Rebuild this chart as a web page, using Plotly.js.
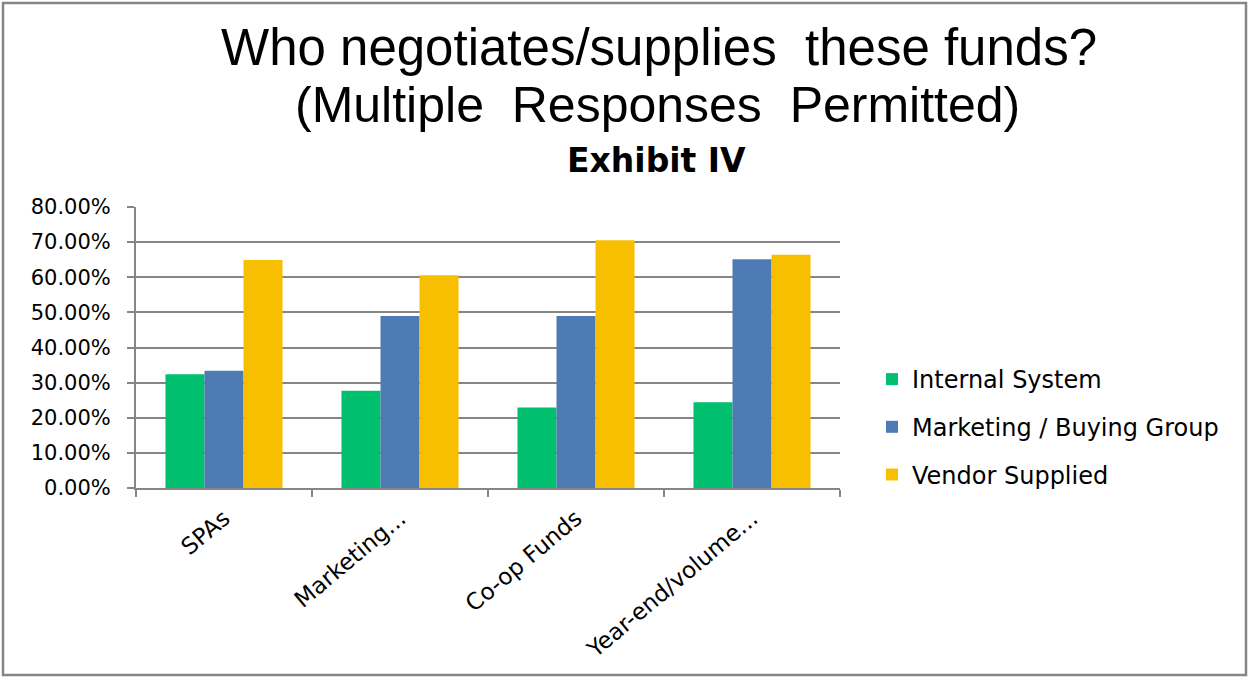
<!DOCTYPE html>
<html>
<head>
<meta charset="utf-8">
<script src="https://cdn.plot.ly/plotly-3.0.1.min.js"></script>
<style>
html,body{margin:0;padding:0;background:#fff;}
#chart{width:1248px;height:677px;}
</style>
</head>
<body>
<div id="chart"></div>
<script>
const categories = ["SPAs", "Marketing...", "Co-op Funds", "Year-end/volume..."];
const internalSystem = [0.324, 0.277, 0.229, 0.244];
const marketingBuyingGroup = [0.334, 0.490, 0.490, 0.651];
const vendorSupplied = [0.649, 0.606, 0.705, 0.664];
const seriesNames = ["Internal System", "Marketing / Buying Group", "Vendor Supplied"];
const seriesColors = ["#00BF6F", "#4F7BB4", "#F8BF00"];
const yTickValues = [0, 0.1, 0.2, 0.3, 0.4, 0.5, 0.6, 0.7, 0.8];

const W = 1248, H = 677;
const L = 136, R = 840, T = 207, B = 488;
const px = x => (x - L) / (R - L);
const py = y => (B - y) / (B - T);

const seriesValues = [internalSystem, marketingBuyingGroup, vendorSupplied];
const traces = seriesValues.map((vals, i) => ({
  type: "bar",
  x: categories,
  y: vals,
  name: seriesNames[i],
  legendgroup: "g" + i,
  marker: {color: seriesColors[i], line: {width: 0}},
  hoverinfo: "x+y+name"
}));

const yTickFont = {family: "DejaVu Sans, sans-serif", size: 21, color: "#000"};
const xTickFont = {family: "DejaVu Sans, sans-serif", size: 23, color: "#000"};

const layout = {
  width: W, height: H,
  margin: {l: L, r: W - R, t: T, b: H - B, pad: 0},
  paper_bgcolor: "#fff",
  plot_bgcolor: "#fff",
  barmode: "group",
  bargap: 0.335,
  bargroupgap: 0,
  showlegend: true,
  legend: {
    x: px(872), xanchor: "left",
    y: py(357), yanchor: "top",
    font: {family: "DejaVu Sans, sans-serif", size: 24, color: "#000"},
    traceorder: "grouped",
    tracegroupgap: 13.5,
    bgcolor: "rgba(0,0,0,0)"
  },
  xaxis: {
    type: "category",
    tickangle: -40,
    tickson: "boundaries",
    ticks: "outside",
    ticklen: 7,
    tickwidth: 2,
    tickcolor: "#868686",
    ticklabelstandoff: 6,
    showline: true,
    linecolor: "#868686",
    linewidth: 2,
    showgrid: false,
    tickfont: xTickFont,
    fixedrange: true
  },
  yaxis: {
    range: [0, 0.8],
    tickvals: yTickValues,
    tickformat: ".2%",
    ticks: "outside",
    ticklen: 7,
    tickwidth: 2,
    tickcolor: "#868686",
    ticklabelstandoff: 12,
    showline: true,
    linecolor: "#868686",
    linewidth: 2,
    showgrid: true,
    gridcolor: "#868686",
    gridwidth: 2,
    zeroline: false,
    tickfont: yTickFont,
    fixedrange: true
  },
  annotations: [
    {text: "Who negotiates/supplies  these funds?", xref: "paper", yref: "paper",
     x: px(659), y: py(48), xanchor: "center", yanchor: "middle", showarrow: false,
     font: {family: "Liberation Sans, Arial, sans-serif", size: 51, color: "#000"}},
    {text: "(Multiple  Responses  Permitted)", xref: "paper", yref: "paper",
     x: px(657), y: py(105), xanchor: "center", yanchor: "middle", showarrow: false,
     font: {family: "Liberation Sans, Arial, sans-serif", size: 50, color: "#000"}},
    {text: "<b>Exhibit IV</b>", xref: "paper", yref: "paper",
     x: px(656), y: py(160), xanchor: "center", yanchor: "middle", showarrow: false,
     font: {family: "DejaVu Sans, sans-serif", size: 33, color: "#000"}}
  ],
  shapes: [
    {type: "rect", xref: "paper", yref: "paper", layer: "below",
     x0: px(3), x1: px(1246), y0: py(3), y1: py(675),
     line: {color: "#868686", width: 2.5}, fillcolor: "rgba(0,0,0,0)"}
  ]
};

Plotly.newPlot("chart", traces, layout, {displayModeBar: false, staticPlot: true});
</script>
</body>
</html>
